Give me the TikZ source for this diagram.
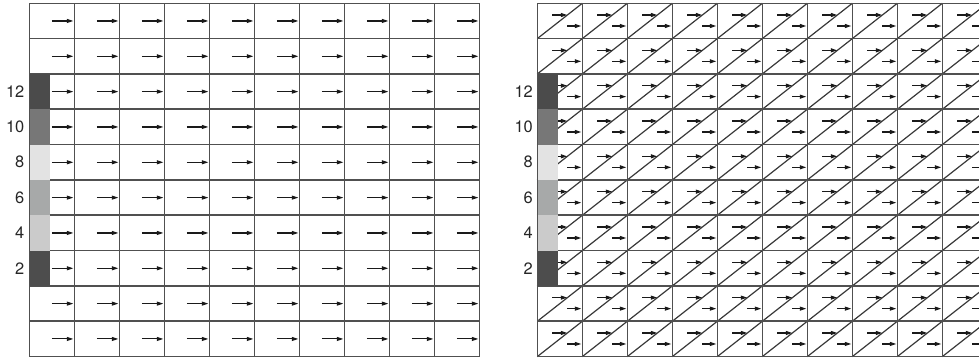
\documentclass[tikz,border=0pt]{standalone}
\usepackage{fontspec}
\setmainfont{TeX Gyre Heros}
\usetikzlibrary{arrows.meta}
\definecolor{gridc}{HTML}{505050}
\definecolor{diagc}{HTML}{383838}
\definecolor{arrc}{HTML}{1A1A1A}
\definecolor{cA}{HTML}{4B4B4B}
\definecolor{cB}{HTML}{777777}
\definecolor{cC}{HTML}{E3E3E3}
\definecolor{cD}{HTML}{A7A9A9}
\definecolor{cE}{HTML}{CBCBCB}
\definecolor{cF}{HTML}{4D4D4D}
\tikzset{
  gridline/.style={draw=gridc, line width=1.6bp},
  diagline/.style={draw=diagc, line width=1.2bp},
  vec/.style={draw=arrc, line width=1.1bp, -{Triangle[length=6.5bp,width=4bp]}},
  lab/.style={anchor=east, inner sep=0pt, font=\fontsize{16.5}{16.5}\selectfont, text=black!85}
}
\begin{document}
\begin{tikzpicture}[x=1bp,y=-1bp]
\useasboundingbox (0,0) rectangle (979,358);
\clip (0,0) rectangle (979,358);
\def\CW{45}
\def\RH{35.33}
\def\TY{3.3}
% ---------- left grid ----------
\def\LX{29.3}
\foreach \i in {0,...,9}{
  \foreach \j in {0,...,9}{
    \draw[vec] ({\LX+\i*\CW+22.5},{\TY+(\j+0.5)*\RH}) -- ({\LX+\i*\CW+44},{\TY+(\j+0.5)*\RH});
  }
}
\foreach \i in {0,...,10}{
  \draw[gridline] ({\LX+\i*\CW},\TY) -- ({\LX+\i*\CW},{\TY+10*\RH});
  \draw[gridline] (\LX,{\TY+\i*\RH}) -- ({\LX+10*\CW},{\TY+\i*\RH});
}
% ---------- right grid ----------
\def\RX{537.3}
\foreach \i in {0,...,10}{
  \foreach \j in {0,...,9}{
    \draw[diagline] ({\RX+\i*\CW},{\TY+(\j+1)*\RH}) -- ({\RX+(\i+1)*\CW},{\TY+\j*\RH});
    \draw[vec] ({\RX+\i*\CW+15},{\TY+\j*\RH+11.7}) -- ({\RX+\i*\CW+30},{\TY+\j*\RH+11.7});
    \draw[vec] ({\RX+\i*\CW+29.7},{\TY+\j*\RH+22.7}) -- ({\RX+\i*\CW+44},{\TY+\j*\RH+22.7});
  }
}
\foreach \i in {0,...,11}{
  \draw[gridline] ({\RX+\i*\CW},\TY) -- ({\RX+\i*\CW},{\TY+10*\RH});
}
\foreach \j in {0,...,10}{
  \draw[gridline] (\RX,{\TY+\j*\RH}) -- ({\RX+11*\CW},{\TY+\j*\RH});
}
% ---------- colour bars and labels ----------
\foreach \r/\c/\t in {2/cA/12,3/cB/10,4/cC/8,5/cD/6,6/cE/4,7/cF/2}{
  \fill[\c] ({\LX+0.8},{\TY+\r*\RH}) rectangle ({\LX+20.8},{\TY+(\r+1)*\RH});
  \fill[\c] ({\RX+0.8},{\TY+\r*\RH}) rectangle ({\RX+20.8},{\TY+(\r+1)*\RH});
  \node[lab] (labL\t) at ({\LX-4.8},{\TY+(\r+0.5)*\RH}) {\t};
  \node[lab] (labR\t) at ({\RX-4.3},{\TY+(\r+0.5)*\RH}) {\t};
}
\end{tikzpicture}
\end{document}
